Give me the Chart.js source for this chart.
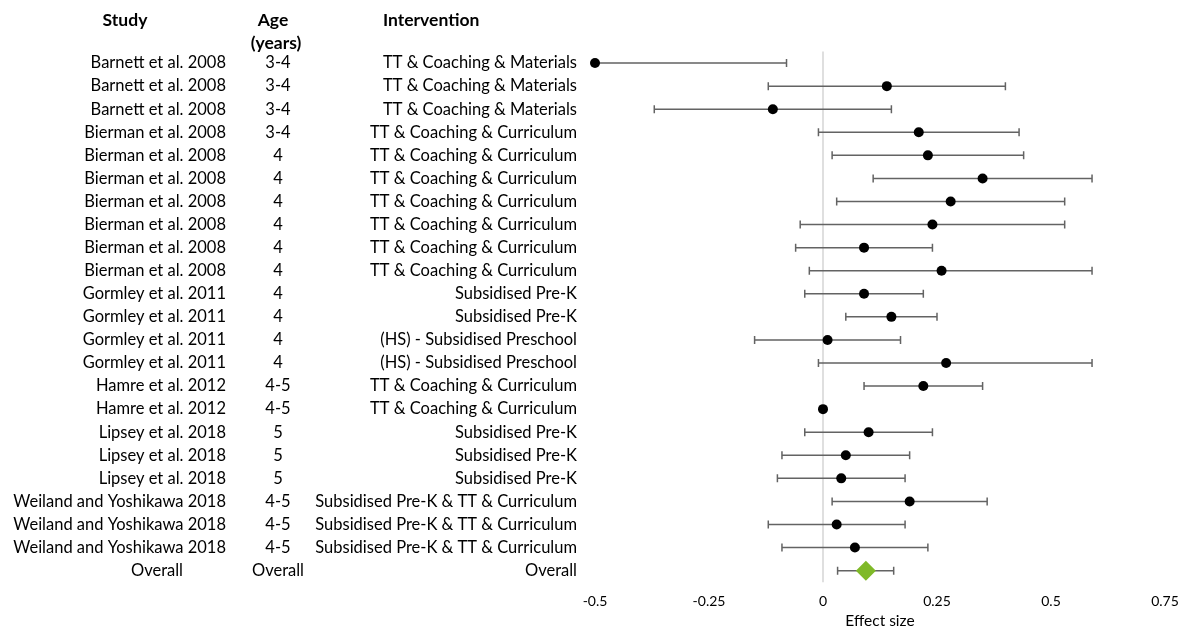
<!DOCTYPE html>
<html>
<head>
<meta charset="utf-8">
<title>Forest plot</title>
<script src="https://cdn.jsdelivr.net/npm/chart.js@4.4.1/dist/chart.umd.min.js"></script>
<style>
  html, body { margin: 0; padding: 0; background: #fff; }
  #wrap { width: 1184px; height: 632px; }
</style>
</head>
<body>
<div id="wrap"><canvas id="myChart" width="1184" height="632"></canvas></div>
<script>
// table columns, one entry per row (last row is the pooled estimate)
var studies = [
    'Barnett et al. 2008', 'Barnett et al. 2008', 'Barnett et al. 2008',
    'Bierman et al. 2008', 'Bierman et al. 2008', 'Bierman et al. 2008', 'Bierman et al. 2008',
    'Bierman et al. 2008', 'Bierman et al. 2008', 'Bierman et al. 2008',
    'Gormley et al. 2011', 'Gormley et al. 2011', 'Gormley et al. 2011', 'Gormley et al. 2011',
    'Hamre et al. 2012', 'Hamre et al. 2012',
    'Lipsey et al. 2018', 'Lipsey et al. 2018', 'Lipsey et al. 2018',
    'Weiland and Yoshikawa 2018', 'Weiland and Yoshikawa 2018', 'Weiland and Yoshikawa 2018',
    'Overall'
];
var ages = [
    '3-4', '3-4', '3-4', '3-4', '4', '4', '4', '4', '4', '4',
    '4', '4', '4', '4', '4-5', '4-5', '5', '5', '5', '4-5', '4-5', '4-5', 'Overall'
];
var interventions = [
    'TT & Coaching & Materials', 'TT & Coaching & Materials', 'TT & Coaching & Materials',
    'TT & Coaching & Curriculum', 'TT & Coaching & Curriculum', 'TT & Coaching & Curriculum',
    'TT & Coaching & Curriculum', 'TT & Coaching & Curriculum', 'TT & Coaching & Curriculum',
    'TT & Coaching & Curriculum',
    'Subsidised Pre-K', 'Subsidised Pre-K',
    '(HS) - Subsidised Preschool', '(HS) - Subsidised Preschool',
    'TT & Coaching & Curriculum', 'TT & Coaching & Curriculum',
    'Subsidised Pre-K', 'Subsidised Pre-K', 'Subsidised Pre-K',
    'Subsidised Pre-K & TT & Curriculum', 'Subsidised Pre-K & TT & Curriculum',
    'Subsidised Pre-K & TT & Curriculum',
    'Overall'
];

// effect sizes and 95% CI
var estimates = [-0.50, 0.14, -0.11, 0.21, 0.23, 0.35, 0.28, 0.24, 0.09, 0.26,
    0.09, 0.15, 0.01, 0.27, 0.22, 0.00, 0.10, 0.05, 0.04, 0.19, 0.03, 0.07, 0.094];
var lowerCI = [-0.92, -0.12, -0.37, -0.01, 0.02, 0.11, 0.03, -0.05, -0.06, -0.03,
    -0.04, 0.05, -0.15, -0.01, 0.09, null, -0.04, -0.09, -0.10, 0.02, -0.12, -0.09, 0.032];
var upperCI = [-0.08, 0.40, 0.15, 0.43, 0.44, 0.59, 0.53, 0.53, 0.24, 0.59,
    0.22, 0.25, 0.17, 0.59, 0.35, null, 0.24, 0.19, 0.18, 0.36, 0.18, 0.23, 0.155];

var xTicks = [-0.5, -0.25, 0, 0.25, 0.5, 0.75];

var lastRow = estimates.length - 1;
var points = estimates.map(function(v, i) { return { x: v, y: i }; });

var textFont = '16.5px Lato';
var boldFont = 'bold 17.5px Lato';

// error bars, zero line and the table text
var forestPlugin = {
    id: 'forestPlugin',
    beforeDatasetsDraw: function(chart) {
        var ctx = chart.ctx;
        var xs = chart.scales.x, ys = chart.scales.y;
        var area = chart.chartArea;

        // line of no effect
        var x0 = xs.getPixelForValue(0);
        ctx.save();
        ctx.strokeStyle = '#d4d4d4';
        ctx.lineWidth = 1.5;
        ctx.beginPath();
        ctx.moveTo(x0, ys.getPixelForValue(-0.5));
        ctx.lineTo(x0, ys.getPixelForValue(lastRow + 0.5));
        ctx.stroke();
        ctx.restore();

        ctx.save();
        ctx.beginPath();
        ctx.rect(area.left - 1, 0, area.right - area.left + 2, chart.height);
        ctx.clip();
        ctx.strokeStyle = '#636363';
        ctx.lineWidth = 1.5;
        for (var i = 0; i < estimates.length; i++) {
            if (lowerCI[i] === null || upperCI[i] === null) continue;
            var y = ys.getPixelForValue(i);
            var xa = xs.getPixelForValue(lowerCI[i]);
            var xb = xs.getPixelForValue(upperCI[i]);
            ctx.beginPath();
            ctx.moveTo(xa, y);
            ctx.lineTo(xb, y);
            ctx.moveTo(xa, y - 4);
            ctx.lineTo(xa, y + 4);
            ctx.moveTo(xb, y - 4);
            ctx.lineTo(xb, y + 4);
            ctx.stroke();
        }
        ctx.restore();
    },
    afterDraw: function(chart) {
        var ctx = chart.ctx;
        var ys = chart.scales.y;
        ctx.save();
        ctx.fillStyle = '#000';
        ctx.textBaseline = 'middle';

        // headers
        ctx.font = boldFont;
        ctx.textAlign = 'center';
        ctx.fillText('Study', 125, 20);
        ctx.fillText('Age', 273, 20);
        ctx.fillText('(years)', 276, 43);
        ctx.textAlign = 'left';
        ctx.fillText('Intervention', 383, 20);

        ctx.font = textFont;
        for (var i = 0; i < studies.length; i++) {
            var y = ys.getPixelForValue(i);
            if (i === lastRow) {
                ctx.textAlign = 'center';
                ctx.fillText(studies[i], 157, y);
            } else {
                ctx.textAlign = 'right';
                ctx.fillText(studies[i], 226, y);
            }
            ctx.textAlign = 'center';
            ctx.fillText(ages[i], 278, y);
            ctx.textAlign = 'right';
            ctx.fillText(interventions[i], 577, y);
        }
        ctx.restore();
    }
};

var ctx = document.getElementById('myChart').getContext('2d');
var myChart = new Chart(ctx, {
    type: 'scatter',
    data: {
        datasets: [{
            label: 'Effect size',
            data: points,
            pointStyle: function(c) { return c.dataIndex === lastRow ? 'rectRot' : 'circle'; },
            pointRadius: function(c) { return c.dataIndex === lastRow ? 10 : 5; },
            backgroundColor: function(c) { return c.dataIndex === lastRow ? '#7fb928' : '#000'; },
            borderColor: function(c) { return c.dataIndex === lastRow ? '#7fb928' : '#000'; },
            borderWidth: 0,
            clip: false
        }]
    },
    options: {
        responsive: false,
        animation: false,
        layout: { padding: { left: 595, right: 19, top: 40, bottom: 2 } },
        plugins: {
            legend: { display: false },
            tooltip: { enabled: false }
        },
        scales: {
            x: {
                type: 'linear',
                min: -0.5,
                max: 0.75,
                afterBuildTicks: function(axis) {
                    axis.ticks = xTicks.map(function(v) { return { value: v }; });
                },
                grid: { display: false, drawTicks: false },
                border: { display: false },
                ticks: {
                    color: '#000',
                    padding: 4,
                    font: { family: 'Lato', size: 14, lineHeight: 1 },
                    callback: function(v) { return String(v); }
                },
                title: {
                    display: true,
                    text: 'Effect size',
                    color: '#000',
                    font: { family: 'Lato', size: 15.5, lineHeight: 1.1 },
                    padding: { top: 0, bottom: 0 }
                }
            },
            y: {
                type: 'linear',
                reverse: true,
                min: -1,
                max: 22.88,
                display: false
            }
        }
    },
    plugins: [forestPlugin]
});
</script>
</body>
</html>
